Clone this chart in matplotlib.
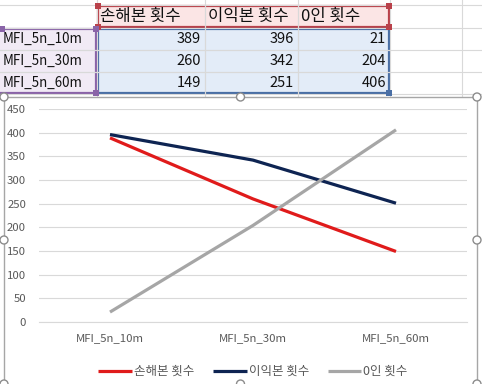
import numpy as np
import matplotlib.pyplot as plt
from matplotlib.patches import Rectangle, Circle

plt.rcParams['font.family'] = ['Noto Sans CJK KR', 'DejaVu Sans']

categories = ['MFI_5n_10m', 'MFI_5n_30m', 'MFI_5n_60m']
series_names = ['손해본 횟수', '이익본 횟수', '0인 횟수']
loss = [389, 260, 149]
gain = [396, 342, 251]
zero = [21, 204, 406]
series_colors = ['#E01B1B', '#0E2452', '#A6A6A6']

W, H = 482, 384
fig = plt.figure(figsize=(W / 100, H / 100), dpi=100)

# sheet background in pixel coordinates
bg = fig.add_axes([0, 0, 1, 1])
bg.set_xlim(0, W)
bg.set_ylim(H, 0)
bg.axis('off')

col_edges = [0, 97, 205, 298, 390, 462, 482]
row_edges = [5, 28, 50, 72, 94]
for x in col_edges[1:-1]:
    bg.plot([x, x], [0, H], color='#D9D9D9', lw=0.8)
for y in row_edges:
    bg.plot([0, W], [y, y], color='#D9D9D9', lw=0.8)

# highlighted cells
bg.add_patch(Rectangle((col_edges[1], row_edges[0]), col_edges[4] - col_edges[1],
                       row_edges[1] - row_edges[0], facecolor='#FBE5E5', edgecolor='none'))
bg.add_patch(Rectangle((col_edges[1], row_edges[1]), col_edges[4] - col_edges[1],
                       row_edges[4] - row_edges[1], facecolor='#E3ECF8', edgecolor='none'))
bg.add_patch(Rectangle((col_edges[0], row_edges[1]), col_edges[1] - col_edges[0],
                       row_edges[4] - row_edges[1], facecolor='#F1EAF5', edgecolor='none'))
for x in col_edges[2:4]:
    bg.plot([x, x], [row_edges[0], row_edges[4]], color='#D9D9D9', lw=0.8)
for y in row_edges[2:4]:
    bg.plot([0, col_edges[4]], [y, y], color='#D9D9D9', lw=0.8)

bg.add_patch(Rectangle((col_edges[1] + 1, row_edges[0] + 1), col_edges[4] - col_edges[1] - 2,
                       row_edges[1] - row_edges[0] - 2, facecolor='none', edgecolor='#B9414A', lw=1.6))
bg.add_patch(Rectangle((col_edges[1] + 1, row_edges[1] + 1), col_edges[4] - col_edges[1] - 2,
                       row_edges[4] - row_edges[1] - 2, facecolor='none', edgecolor='#4A6FA5', lw=1.6))
bg.add_patch(Rectangle((col_edges[0] - 2, row_edges[1] + 1), col_edges[1] - col_edges[0] + 1,
                       row_edges[4] - row_edges[1] - 2, facecolor='none', edgecolor='#8A64A8', lw=1.6))
for (hx, hy, c) in [(col_edges[1] + 1, row_edges[0] + 1, '#B9414A'), (col_edges[4] - 1, row_edges[0] + 1, '#B9414A'),
                    (col_edges[1] + 1, row_edges[1] - 1, '#B9414A'), (col_edges[4] - 1, row_edges[1] - 1, '#B9414A'),
                    (col_edges[1] - 1, row_edges[4] - 1, '#8A64A8'), (col_edges[4] - 1, row_edges[4] - 1, '#4A6FA5'),
                    (col_edges[0] + 2, row_edges[1] + 1, '#8A64A8'), (col_edges[1] - 1, row_edges[1] + 1, '#8A64A8')]:
    bg.add_patch(Rectangle((hx - 3, hy - 3), 6, 6, facecolor=c, edgecolor='none', zorder=5))

for j, name in enumerate(series_names):
    bg.text(col_edges[j + 1] + 3, (row_edges[0] + row_edges[1]) / 2, name,
            ha='left', va='center', fontsize=12, color='#111111')
table_vals = [loss, gain, zero]
for i, cat in enumerate(categories):
    yc = (row_edges[i + 1] + row_edges[i + 2]) / 2
    bg.text(col_edges[0] + 3, yc, cat, ha='left', va='center', fontsize=9.6, color='#111111')
    for j in range(3):
        bg.text(col_edges[j + 2] - 4, yc, str(table_vals[j][i]), ha='right', va='center',
                fontsize=10.5, color='#111111')

# chart area
cx0, cy0, cx1, cy1 = 4, 97, 477, 390
bg.add_patch(Rectangle((cx0, cy0), cx1 - cx0, cy1 - cy0, facecolor='white',
                       edgecolor='#A6A6A6', lw=1, zorder=3))
for (hx, hy) in [(cx0, cy0), (cx1, cy0), (cx0, 240), (cx1, 240), ((cx0 + cx1) / 2, cy0),
                 (cx0, H), (cx1, H), ((cx0 + cx1) / 2, H)]:
    bg.add_patch(Circle((hx, hy), 4, facecolor='white', edgecolor='#8C8C8C', lw=1, zorder=6))

ax = fig.add_axes([38.5 / W, 1 - 322 / H, (467.5 - 38.5) / W, (322 - 109) / H])
ax.set_facecolor('none')
x = np.arange(len(categories))
for vals, name, c in zip(table_vals, series_names, series_colors):
    ax.plot(x, vals, color=c, lw=2.3, label=name, solid_capstyle='butt')
ax.set_xlim(-0.5, 2.5)
ax.set_ylim(0, 450)
ax.set_yticks(np.arange(0, 451, 50))
ax.set_xticks(x)
ax.set_xticklabels(categories)
ax.grid(axis='y', color='#D9D9D9', lw=0.8)
ax.set_axisbelow(True)
for s in ax.spines.values():
    s.set_visible(False)
ax.spines['bottom'].set_visible(True)
ax.spines['bottom'].set_color('#D9D9D9')
ax.tick_params(length=0, labelsize=8.2, colors='#595959', pad=8)
ax.tick_params(axis='y', pad=9)
ax.legend(loc='upper center', bbox_to_anchor=(0.5, -0.15), ncol=3, frameon=False,
          fontsize=9, handlelength=2.7, handletextpad=0.15, columnspacing=1.5,
          labelcolor='#595959')

fig.savefig('out.png', dpi=100)
